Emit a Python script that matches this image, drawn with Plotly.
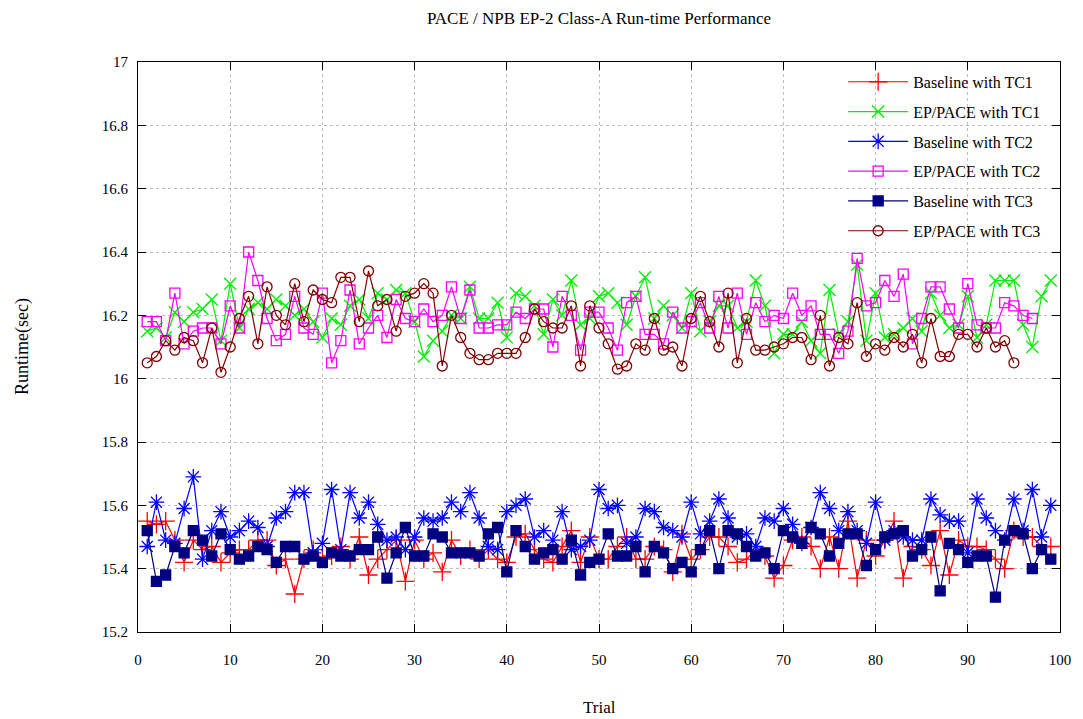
import plotly.graph_objects as go

trials = list(range(1, 101))

baseline_tc1 = [15.55, 15.54, 15.55, 15.49, 15.42, 15.49, 15.46, 15.47, 15.42, 15.45,
                15.46, 15.46, 15.49, 15.49, 15.41, 15.43, 15.32, 15.43, 15.46, 15.43,
                15.44, 15.47, 15.43, 15.50, 15.38, 15.43, 15.46, 15.49, 15.36, 15.49,
                15.43, 15.45, 15.39, 15.49, 15.44, 15.46, 15.43, 15.46, 15.43, 15.42,
                15.50, 15.51, 15.46, 15.43, 15.42, 15.47, 15.52, 15.42, 15.50, 15.43,
                15.43, 15.47, 15.50, 15.43, 15.43, 15.47, 15.46, 15.39, 15.51, 15.43,
                15.46, 15.50, 15.50, 15.47, 15.42, 15.43, 15.46, 15.44, 15.37, 15.41,
                15.49, 15.50, 15.47, 15.40, 15.50, 15.40, 15.55, 15.37, 15.49, 15.44,
                15.49, 15.55, 15.37, 15.47, 15.46, 15.41, 15.52, 15.38, 15.49, 15.47,
                15.47, 15.46, 15.43, 15.40, 15.52, 15.50, 15.50, 15.47, 15.47]

ep_tc1 = [16.15, 16.16, 16.13, 16.21, 16.18, 16.21, 16.22, 16.25, 16.12, 16.30,
          16.16, 16.22, 16.24, 16.22, 16.25, 16.23, 16.20, 16.22, 16.18, 16.13,
          16.19, 16.17, 16.23, 16.25, 16.19, 16.27, 16.25, 16.28, 16.27, 16.18,
          16.07, 16.12, 16.15, 16.20, 16.19, 16.29, 16.19, 16.19, 16.24, 16.13,
          16.27, 16.26, 16.23, 16.14, 16.25, 16.20, 16.31, 16.17, 16.19, 16.26,
          16.27, 16.24, 16.17, 16.26, 16.32, 16.19, 16.23, 16.20, 16.16, 16.27,
          16.15, 16.18, 16.23, 16.23, 16.16, 16.18, 16.31, 16.23, 16.08, 16.14,
          16.14, 16.18, 16.12, 16.08, 16.28, 16.14, 16.18, 16.36, 16.12, 16.27,
          16.13, 16.14, 16.16, 16.19, 16.15, 16.27, 16.20, 16.16, 16.17, 16.26,
          16.13, 16.17, 16.31, 16.31, 16.31, 16.17, 16.10, 16.26, 16.31]

baseline_tc2 = [15.47, 15.61, 15.49, 15.48, 15.59, 15.69, 15.43, 15.52, 15.58, 15.50,
                15.52, 15.55, 15.53, 15.47, 15.56, 15.58, 15.64, 15.64, 15.45, 15.48,
                15.65, 15.46, 15.64, 15.56, 15.61, 15.54, 15.49, 15.50, 15.46, 15.50,
                15.56, 15.55, 15.56, 15.61, 15.58, 15.64, 15.56, 15.47, 15.46, 15.58,
                15.60, 15.62, 15.50, 15.52, 15.49, 15.58, 15.46, 15.47, 15.49, 15.65,
                15.59, 15.60, 15.48, 15.50, 15.59, 15.58, 15.53, 15.52, 15.50, 15.61,
                15.51, 15.55, 15.62, 15.56, 15.50, 15.51, 15.47, 15.56, 15.55, 15.59,
                15.54, 15.48, 15.53, 15.64, 15.59, 15.52, 15.58, 15.52, 15.48, 15.61,
                15.49, 15.52, 15.50, 15.49, 15.49, 15.62, 15.57, 15.55, 15.55, 15.45,
                15.62, 15.56, 15.52, 15.49, 15.62, 15.52, 15.65, 15.50, 15.60]

ep_tc2 = [16.18, 16.18, 16.12, 16.27, 16.11, 16.15, 16.16, 16.16, 16.11, 16.23,
          16.16, 16.40, 16.31, 16.19, 16.12, 16.14, 16.26, 16.16, 16.14, 16.27,
          16.05, 16.12, 16.28, 16.11, 16.16, 16.20, 16.13, 16.25, 16.19, 16.18,
          16.22, 16.18, 16.20, 16.29, 16.19, 16.28, 16.16, 16.16, 16.17, 16.17,
          16.21, 16.19, 16.22, 16.22, 16.10, 16.26, 16.20, 16.09, 16.21, 16.21,
          16.16, 16.09, 16.24, 16.26, 16.14, 16.14, 16.11, 16.21, 16.16, 16.18,
          16.24, 16.16, 16.26, 16.16, 16.27, 16.14, 16.24, 16.18, 16.20, 16.19,
          16.27, 16.20, 16.23, 16.14, 16.14, 16.08, 16.15, 16.38, 16.23, 16.24,
          16.31, 16.26, 16.33, 16.11, 16.19, 16.29, 16.29, 16.22, 16.16, 16.30,
          16.17, 16.16, 16.16, 16.24, 16.23, 16.20, 16.19]

baseline_tc3 = [15.52, 15.36, 15.38, 15.47, 15.45, 15.52, 15.49, 15.44, 15.51, 15.46,
                15.43, 15.44, 15.47, 15.46, 15.42, 15.47, 15.47, 15.43, 15.44, 15.42,
                15.45, 15.44, 15.44, 15.46, 15.46, 15.50, 15.37, 15.45, 15.53, 15.44,
                15.44, 15.51, 15.50, 15.45, 15.45, 15.45, 15.44, 15.51, 15.53, 15.39,
                15.52, 15.47, 15.43, 15.45, 15.46, 15.43, 15.49, 15.38, 15.42, 15.43,
                15.51, 15.44, 15.44, 15.47, 15.39, 15.47, 15.45, 15.40, 15.42, 15.39,
                15.46, 15.52, 15.40, 15.52, 15.51, 15.47, 15.44, 15.45, 15.40, 15.52,
                15.50, 15.48, 15.53, 15.51, 15.44, 15.48, 15.51, 15.51, 15.41, 15.46,
                15.50, 15.51, 15.52, 15.44, 15.46, 15.50, 15.33, 15.48, 15.46, 15.42,
                15.44, 15.44, 15.31, 15.49, 15.52, 15.51, 15.40, 15.46, 15.43]

ep_tc3 = [16.05, 16.07, 16.12, 16.09, 16.13, 16.12, 16.05, 16.16, 16.02, 16.10,
          16.19, 16.26, 16.11, 16.29, 16.20, 16.17, 16.30, 16.18, 16.28, 16.25,
          16.24, 16.32, 16.32, 16.18, 16.34, 16.23, 16.25, 16.15, 16.26, 16.27,
          16.30, 16.27, 16.04, 16.20, 16.13, 16.08, 16.06, 16.06, 16.08, 16.08,
          16.08, 16.13, 16.22, 16.18, 16.16, 16.16, 16.23, 16.04, 16.23, 16.16,
          16.11, 16.03, 16.04, 16.11, 16.09, 16.19, 16.09, 16.10, 16.04, 16.19,
          16.26, 16.18, 16.10, 16.27, 16.05, 16.19, 16.09, 16.09, 16.10, 16.11,
          16.13, 16.13, 16.06, 16.20, 16.04, 16.13, 16.11, 16.24, 16.07, 16.11,
          16.09, 16.13, 16.10, 16.14, 16.05, 16.19, 16.07, 16.07, 16.14, 16.14,
          16.10, 16.16, 16.10, 16.12, 16.05]

series = [
    ("Baseline with TC1", baseline_tc1, "#ff0000", "cross-thin-open", 13),
    ("EP/PACE with TC1", ep_tc1, "#00ee00", "x-thin-open", 12),
    ("Baseline with TC2", baseline_tc2, "#0000ff", "asterisk-open", 13),
    ("EP/PACE with TC2", ep_tc2, "#ff00ff", "square-open", 10),
    ("Baseline with TC3", baseline_tc3, "#000080", "square", 10),
    ("EP/PACE with TC3", ep_tc3, "#800000", "circle-open", 10),
]

serif = "Liberation Serif, Times New Roman, serif"

fig = go.Figure()
for i, (name, vals, color, sym, size) in enumerate(series):
    fig.add_trace(go.Scatter(
        x=trials[:len(vals)], y=vals, mode="lines+markers", name=name,
        legendgroup=f"g{i}",
        line=dict(color=color, width=1.2),
        marker=dict(symbol=sym, size=size, color=color,
                    line=dict(color=color, width=1.3)),
    ))

fig.update_layout(
    width=1083, height=719,
    margin=dict(l=138, r=20, t=62, b=87),
    paper_bgcolor="white", plot_bgcolor="white",
    font=dict(family=serif, size=15, color="black"),
    title=dict(text="PACE / NPB EP-2 Class-A Run-time Performance",
               x=0.5, xref="paper", xanchor="center", y=1 - 18 / 719, yanchor="middle",
               yref="container", font=dict(family=serif, size=17)),
    legend=dict(x=0.985, xanchor="right", y=0.995, yanchor="top",
                bgcolor="rgba(0,0,0,0)", font=dict(family=serif, size=16),
                tracegroupgap=6, itemwidth=60),
    showlegend=True,
    annotations=[
        dict(text="Trial", xref="paper", yref="paper", x=0.5, y=0,
             xanchor="center", yanchor="middle", yshift=-75, showarrow=False,
             font=dict(family=serif, size=17)),
        dict(text="Runtime(sec)", xref="paper", yref="paper", x=0, y=0.5,
             xanchor="center", yanchor="middle", xshift=-116, textangle=-90,
             showarrow=False, font=dict(family=serif, size=18)),
    ],
)
fig.update_xaxes(range=[0, 100], dtick=10, tick0=0, showline=True, linecolor="black",
                 linewidth=1, mirror="ticks", ticks="inside", ticklen=8,
                 tickcolor="black", showgrid=True, gridcolor="#bdbdbd",
                 griddash="dot", gridwidth=1, zeroline=False,
                 tickfont=dict(family=serif, size=15), ticklabelstandoff=14)
fig.update_yaxes(range=[15.2, 17], dtick=0.2, tick0=15.2, showline=True, linecolor="black",
                 linewidth=1, mirror="ticks", ticks="inside", ticklen=8,
                 tickcolor="black", showgrid=True, gridcolor="#bdbdbd",
                 griddash="dot", gridwidth=1, zeroline=False,
                 tickfont=dict(family=serif, size=15), ticklabelstandoff=6)

fig.write_html("out.html")
